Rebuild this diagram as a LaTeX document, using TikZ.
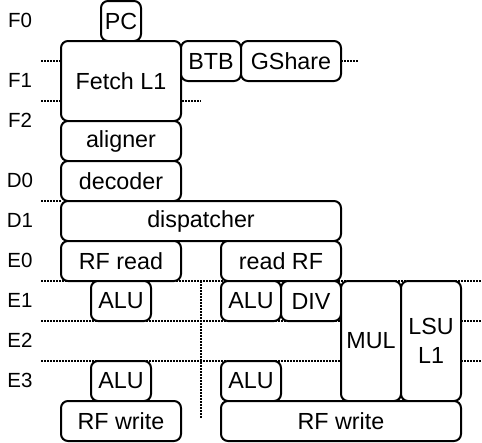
\documentclass[tikz,border=0pt]{standalone}
\usepackage{fontspec}
\setmainfont{Liberation Sans}
\usetikzlibrary{positioning}

\tikzset{
  unit/.style={draw, fill=white, rounded corners=7pt, line width=2pt,
    inner sep=0pt, align=center, font=\fontsize{23.3}{29}\selectfont},
  stage/.style={font=\fontsize{20.5}{22}\selectfont},
  sep/.style={line width=2pt, dash pattern=on 1.5pt off 1.5pt},
}

\begin{document}
\begin{tikzpicture}[x=1pt, y=-1pt]
    \useasboundingbox (0,0) rectangle (482,442);

    % pipeline stage separators
    \draw[sep] (41,61) -- (359,61);
    \draw[sep] (41,101) -- (201,101);
    \draw[sep] (41,201) -- (61,201);
    \draw[sep] (41,281) -- (481,281);
    \draw[sep] (41,321) -- (481,321);
    \draw[sep] (41,361) -- (481,361);
    \draw[sep] (201,281) -- (201,419);

    % stage names
    \node[stage] (f0) at (20,20) {F0};
    \node[stage] (f1) at (20,80) {F1};
    \node[stage] (f2) at (20,120) {F2};
    \node[stage] (d0) at (20,180) {D0};
    \node[stage] (d1) at (20,220) {D1};
    \node[stage] (e0) at (20,260) {E0};
    \node[stage] (e1) at (20,300) {E1};
    \node[stage] (e2) at (20,340) {E2};
    \node[stage] (e3) at (20,380) {E3};

    % front end
    \node[unit, minimum width=40pt, minimum height=40pt] (pc) at (121,21) {PC};
    \node[unit, minimum width=120pt, minimum height=80pt] (fetch) at (121,81) {Fetch L1};
    \node[unit, minimum width=60pt, minimum height=40pt] (btb) at (211,61) {BTB};
    \node[unit, minimum width=100pt, minimum height=40pt] (gshare) at (291,61) {GShare};
    \node[unit, minimum width=120pt, minimum height=40pt] (aligner) at (121,141) {aligner};
    \node[unit, minimum width=120pt, minimum height=40pt] (decoder) at (121,181) {decoder};
    \node[unit, minimum width=280pt, minimum height=40pt] (dispatch) at (201,221) {dispatcher};

    % execute, left pipe
    \node[unit, minimum width=120pt, minimum height=40pt] (rfreadA) at (121,261) {RF read};
    \node[unit, minimum width=60pt, minimum height=40pt] (aluA1) at (121,301) {ALU};
    \node[unit, minimum width=60pt, minimum height=40pt] (aluA3) at (121,381) {ALU};
    \node[unit, minimum width=120pt, minimum height=40pt] (rfwriteA) at (121,421) {RF write};

    % execute, right pipe
    \node[unit, minimum width=120pt, minimum height=40pt] (rfreadB) at (281,261) {read RF};
    \node[unit, minimum width=60pt, minimum height=40pt] (aluB1) at (251,301) {ALU};
    \node[unit, minimum width=60pt, minimum height=40pt] (div) at (311,301) {DIV};
    \node[unit, minimum width=60pt, minimum height=120pt] (mul) at (371,341) {MUL};
    \node[unit, minimum width=60pt, minimum height=120pt] (lsu) at (431,341) {LSU\\L1};
    \node[unit, minimum width=60pt, minimum height=40pt] (aluB3) at (251,381) {ALU};
    \node[unit, minimum width=240pt, minimum height=40pt] (rfwriteB) at (341,421) {RF write};
\end{tikzpicture}
\end{document}
